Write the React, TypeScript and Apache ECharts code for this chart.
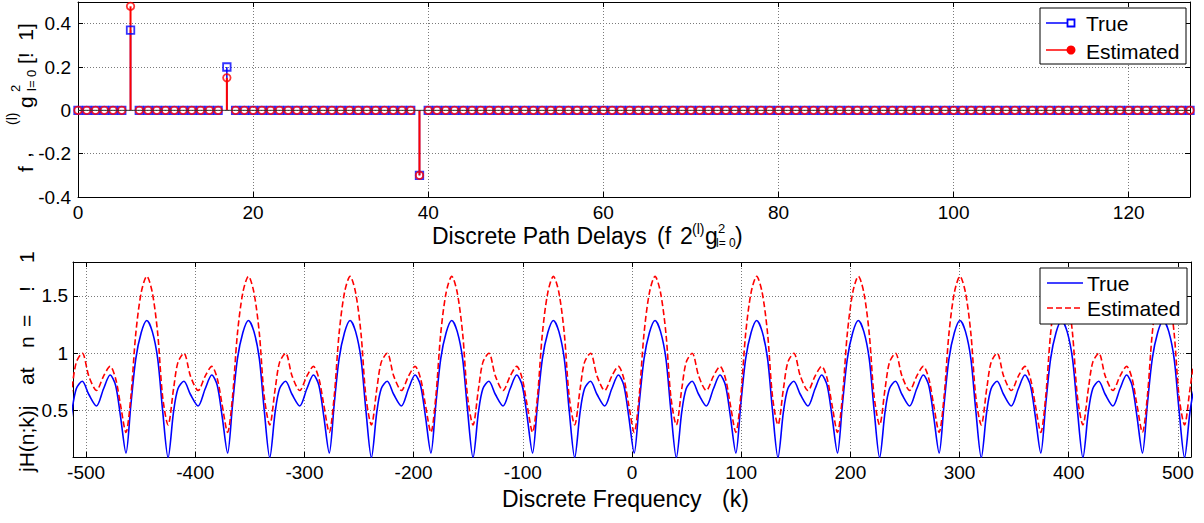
import React, { useEffect, useRef } from "react";
import * as echarts from "echarts";

// ---------- Data ----------
// Top panel: discrete path delays 0..127, stem values
const numDelays = 128;
const pathDelays = [6, 17, 39];
const trueGains = [0.37, 0.2, -0.3];
const estGains = [0.48, 0.15, -0.3];

// Bottom panel: |H(n;k)|. The curve repeats with one main peak per period;
// the shape of one period was read at these offsets (in k) after each main peak.
const periodOffsets = [0, 5, 10, 14.5, 19.5, 24.5, 28.5, 34, 40, 47, 53.5, 59.5, 64.5, 69, 74, 78.5, 83, 88];
const trueShape = [1.285, 1.19, 0.95, 0.5, 0.09, 0.49, 0.69, 0.755, 0.64, 0.54, 0.69, 0.81, 0.72, 0.45, 0.13, 0.55, 0.95, 1.18];
const estShape = [1.67, 1.53, 1.17, 0.62, 0.375, 0.69, 0.92, 1.0, 0.8, 0.675, 0.8, 0.885, 0.78, 0.55, 0.31, 0.62, 1.17, 1.53];
// k positions of the main peaks
const peakFreqs = [-537.5, -444.4, -351.3, -258.2, -165.1, -72, 21.1, 114.2, 207.3, 300.4, 393.5, 486.6];

// ---------- Derived series ----------
const trueSeq: number[][] = [];
const estSeq: number[][] = [];
for (let l = 0; l < numDelays; l++) {
  const idx = pathDelays.indexOf(l);
  trueSeq.push([l, idx >= 0 ? trueGains[idx] : 0]);
  estSeq.push([l, idx >= 0 ? estGains[idx] : 0]);
}
const trueStems = pathDelays.map((d, i) => [d, trueGains[i]]);
const estStems = pathDelays.map((d, i) => [d, estGains[i]]);

const freqTrue: number[][] = [];
const freqEst: number[][] = [];
peakFreqs.forEach((p) => {
  periodOffsets.forEach((t, i) => {
    freqTrue.push([p + t, trueShape[i]]);
    freqEst.push([p + t, estShape[i]]);
  });
});

// ---------- Styles ----------
const FONT = "'Liberation Sans', Arial, Helvetica, sans-serif";
const BLUE = "#0000ff";
const RED = "#ff0000";

const axisLine = { show: true, onZero: false, lineStyle: { color: "#000", width: 1 } };
const tickIn = { show: true, inside: true, length: 5, lineStyle: { color: "#000", width: 1 } };
const gridLine = { show: true, lineStyle: { color: "#7a7a7a", type: [1, 2], width: 1 } };
const tickLabel = (margin: number, extra: any = {}) => ({
  color: "#000",
  fontSize: 19,
  fontFamily: FONT,
  margin,
  ...extra,
});

const stemRenderer = (color: string, width: number) => (params: any, api: any) => {
  const x = api.value(0);
  const v = api.value(1);
  const p0 = api.coord([x, 0]);
  const p1 = api.coord([x, v]);
  return {
    type: "line",
    shape: { x1: p0[0], y1: p0[1], x2: p1[0], y2: p1[1] },
    style: { stroke: color, lineWidth: width },
  };
};

const txt = (text: string, x: number, y: number, size: number, extra: any = {}) => ({
  type: "text",
  x,
  y,
  z: 100,
  style: {
    text,
    fill: "#000",
    font: `${size}px ${FONT}`,
    textAlign: "left",
    textVerticalAlign: "middle",
    ...extra,
  },
});

const buildOption = () => ({
  animation: false,
  backgroundColor: "#fff",
  grid: [
    { left: 78, top: 2, width: 1112, height: 195, containLabel: false, outerBoundsMode: "none" },
    { left: 73, top: 262, width: 1118, height: 195, containLabel: false, outerBoundsMode: "none" },
  ],
  xAxis: [
    {
      gridIndex: 0, type: "value", min: 0, max: 127, interval: 20, position: "bottom",
      axisLine, axisTick: tickIn, splitLine: gridLine,
      axisLabel: tickLabel(6, { showMaxLabel: false }),
    },
    {
      gridIndex: 0, type: "value", min: 0, max: 127, interval: 20, position: "top",
      axisLine, axisTick: tickIn, splitLine: { show: false }, axisLabel: { show: false },
    },
    {
      gridIndex: 1, type: "value", min: -512, max: 512, splitNumber: 10, position: "bottom",
      axisLine, axisTick: tickIn, splitLine: gridLine,
      axisLabel: tickLabel(6, { showMinLabel: false, showMaxLabel: false }),
    },
    {
      gridIndex: 1, type: "value", min: -512, max: 512, splitNumber: 10, position: "top",
      axisLine, axisTick: tickIn, splitLine: { show: false }, axisLabel: { show: false },
    },
  ],
  yAxis: [
    {
      gridIndex: 0, type: "value", min: -0.4, max: 0.5, interval: 0.2, position: "left",
      axisLine, axisTick: tickIn, splitLine: gridLine,
      axisLabel: tickLabel(7, { showMaxLabel: false }),
    },
    {
      gridIndex: 0, type: "value", min: -0.4, max: 0.5, interval: 0.2, position: "right",
      axisLine, axisTick: tickIn, splitLine: { show: false }, axisLabel: { show: false },
    },
    {
      gridIndex: 1, type: "value", min: 0.095, max: 1.795, splitNumber: 3, position: "left",
      axisLine, axisTick: tickIn, splitLine: gridLine,
      axisLabel: tickLabel(5, { showMinLabel: false, showMaxLabel: false }),
    },
    {
      gridIndex: 1, type: "value", min: 0.095, max: 1.795, splitNumber: 3, position: "right",
      axisLine, axisTick: tickIn, splitLine: { show: false }, axisLabel: { show: false },
    },
  ],
  series: [
    {
      type: "line", xAxisIndex: 0, yAxisIndex: 0, data: [[0, 0], [numDelays - 1, 0]],
      symbol: "none", silent: true, lineStyle: { color: "#333", width: 1 },
    },
    {
      type: "custom", xAxisIndex: 0, yAxisIndex: 0, data: trueStems, silent: true,
      renderItem: stemRenderer(BLUE, 1.5),
    },
    {
      type: "scatter", xAxisIndex: 0, yAxisIndex: 0, data: trueSeq, silent: true,
      symbol: "rect", symbolSize: 7.5,
      itemStyle: { color: "rgba(255,255,255,0)", borderColor: BLUE, borderWidth: 1.8 },
    },
    {
      type: "custom", xAxisIndex: 0, yAxisIndex: 0, data: estStems, silent: true,
      renderItem: stemRenderer(RED, 2),
    },
    {
      type: "scatter", xAxisIndex: 0, yAxisIndex: 0, data: estSeq, silent: true,
      symbol: "circle", symbolSize: 7.5,
      itemStyle: { color: "rgba(255,255,255,0)", borderColor: RED, borderWidth: 1.8 },
    },
    {
      type: "line", xAxisIndex: 2, yAxisIndex: 2, data: freqTrue, symbol: "none", silent: true,
      smooth: 0.3, lineStyle: { color: BLUE, width: 1.6 },
    },
    {
      type: "line", xAxisIndex: 2, yAxisIndex: 2, data: freqEst, symbol: "none", silent: true,
      smooth: 0.3, lineStyle: { color: RED, width: 1.6, type: [6, 3] },
    },
  ],
  graphic: [
    // ---- top x-axis title ----
    txt("Discrete Path Delays", 432, 236, 23),
    txt("(f", 657, 236, 23),
    txt("2", 680, 236, 23),
    txt("(l)", 692, 229, 14),
    txt("g", 705, 236, 23),
    txt("2", 718, 228, 13),
    txt("l= 0", 716, 243, 12),
    txt(")", 735, 236, 23),
    // ---- bottom x-axis title ----
    txt("Discrete Frequency", 502, 499, 23),
    txt("(k)", 722, 499, 23),
    // ---- top y-axis title (rotated) ----
    {
      type: "group", x: 25, y: 172, rotation: Math.PI / 2, z: 100,
      children: [
        txt("f", 0, 0, 21),
        txt(",", 14, -2, 21),
        txt("(l)", 47, -13, 14),
        txt("g", 64, 0, 21),
        txt("2", 80, -10, 13),
        txt("l= 0", 81, 6, 13),
        txt("[!  1]", 108, 0, 21),
      ],
    },
    // ---- bottom y-axis title (rotated) ----
    {
      type: "group", x: 26, y: 474, rotation: Math.PI / 2, z: 100,
      children: [
        txt("jH(n;k)j", 2, 0, 21),
        txt("at", 89, 0, 21),
        txt("n", 126, 0, 21),
        txt("=", 147, 0, 21),
        txt("!", 182, 0, 21),
        txt("1", 211, 0, 21),
      ],
    },
    // ---- top legend ----
    {
      type: "rect", z: 100, shape: { x: 1040, y: 8, width: 146, height: 56 },
      style: { fill: "#fff", stroke: "#000", lineWidth: 1 },
    },
    {
      type: "line", z: 101, shape: { x1: 1046, y1: 23, x2: 1075, y2: 23 },
      style: { stroke: BLUE, lineWidth: 1.5 },
    },
    {
      type: "rect", z: 102, shape: { x: 1067.5, y: 19.5, width: 7, height: 7 },
      style: { fill: "#fff", stroke: BLUE, lineWidth: 1.8 },
    },
    txt("True", 1086, 23, 21, {}),
    {
      type: "line", z: 101, shape: { x1: 1046, y1: 50, x2: 1075, y2: 50 },
      style: { stroke: RED, lineWidth: 1.5 },
    },
    {
      type: "circle", z: 102, shape: { cx: 1071, cy: 50, r: 3.8 },
      style: { fill: RED, stroke: RED, lineWidth: 1.5 },
    },
    txt("Estimated", 1086, 51, 21),
    // ---- bottom legend ----
    {
      type: "rect", z: 100, shape: { x: 1040, y: 268, width: 147, height: 56 },
      style: { fill: "#fff", stroke: "#000", lineWidth: 1 },
    },
    {
      type: "line", z: 101, shape: { x1: 1047, y1: 283, x2: 1083, y2: 283 },
      style: { stroke: BLUE, lineWidth: 1.6 },
    },
    txt("True", 1087, 283, 21),
    {
      type: "line", z: 101, shape: { x1: 1047, y1: 308, x2: 1083, y2: 308 },
      style: { stroke: RED, lineWidth: 1.6, lineDash: [6, 3] },
    },
    txt("Estimated", 1087, 308, 21),
  ],
});

export default function App() {
  const ref = useRef<HTMLDivElement>(null);
  useEffect(() => {
    if (!ref.current) return;
    const chart = echarts.init(ref.current, null, { renderer: "svg" });
    chart.setOption(buildOption() as any);
    return () => chart.dispose();
  }, []);
  return (
    <div
      ref={ref}
      style={{ position: "fixed", left: 0, top: 0, width: 1204, height: 523, background: "#fff" }}
    />
  );
}
